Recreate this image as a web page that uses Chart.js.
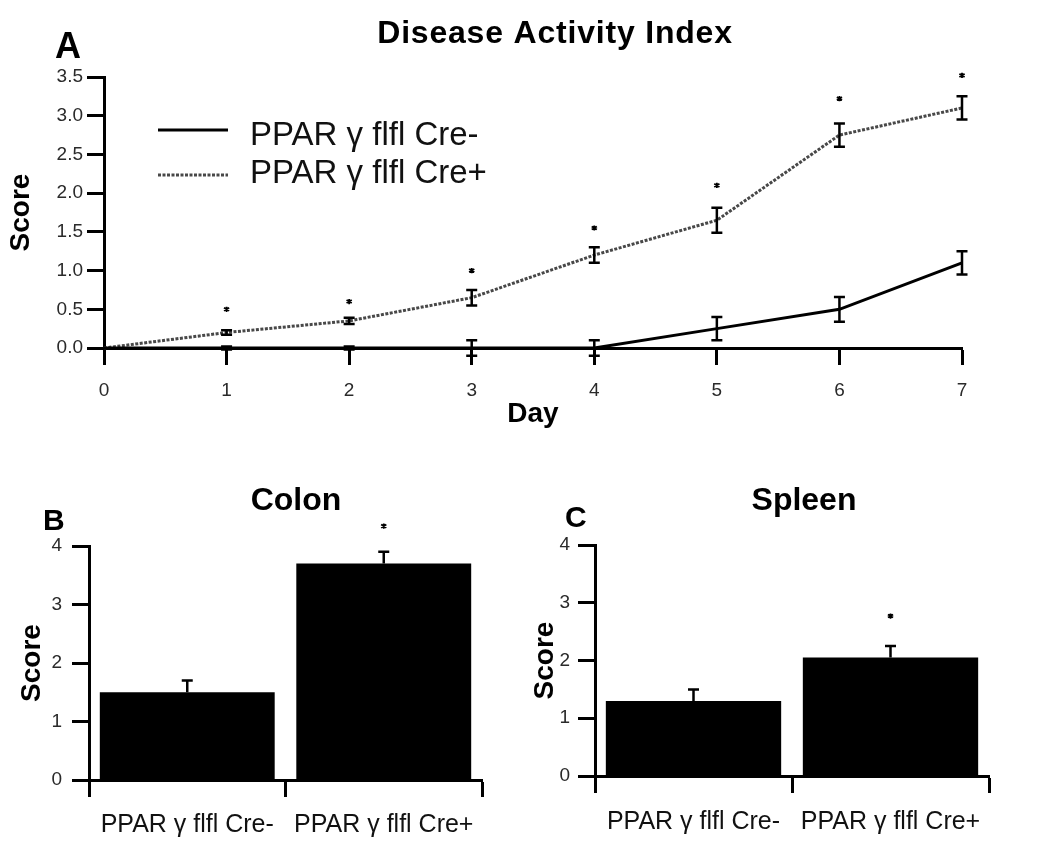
<!DOCTYPE html>
<html>
<head>
<meta charset="utf-8">
<title>Disease Activity Index</title>
<script src="https://cdn.jsdelivr.net/npm/chart.js@4.4.0/dist/chart.umd.min.js"></script>
<style>
  body { margin: 0; background: #fff; }
  #wrap { position: relative; width: 1050px; height: 852px; }
  canvas { position: absolute; }
</style>
</head>
<body>
<div id="wrap">
  <canvas id="dai" width="1050" height="440" style="left:0;top:0"></canvas>
  <canvas id="colon" width="520" height="392" style="left:0;top:460px"></canvas>
  <canvas id="spleen" width="530" height="392" style="left:520px;top:460px"></canvas>
</div>
<script>
// values
const days = [0, 1, 2, 3, 4, 5, 6, 7];
const creMinus = [0, 0, 0, 0, 0, 0.25, 0.5, 1.1];
const creMinusErr = [0, 0.02, 0.02, 0.1, 0.1, 0.15, 0.16, 0.15];
const crePlus = [0, 0.2, 0.35, 0.65, 1.2, 1.65, 2.75, 3.1];
const crePlusErr = [0, 0.03, 0.04, 0.1, 0.1, 0.16, 0.15, 0.15];
const sigDays = [1, 2, 3, 4, 5, 6, 7];
const sigDai = [0.5, 0.6, 1.0, 1.55, 2.1, 3.22, 3.52]; // asterisk heights

const groups = ['PPAR γ flfl Cre-', 'PPAR γ flfl Cre+'];
const colon = [1.5, 3.7];
const colonErr = [0.2, 0.2];
const colonSig = [null, 4.34];
const spleen = [1.3, 2.05];
const spleenErr = [0.2, 0.2];
const spleenSig = [null, 2.77];

const FONT = '"Liberation Sans", Arial, Helvetica, sans-serif';
Chart.defaults.font.family = FONT;
Chart.defaults.color = '#222';

// error bars: both directions for the lines, up only for the bars
const errorBars = {
  id: 'errorBars',
  afterDatasetsDraw(chart, args, opts) {
    const ctx = chart.ctx;
    const yScale = chart.scales.y;
    chart.data.datasets.forEach((ds, di) => {
      if (!ds.errors) return;
      const meta = chart.getDatasetMeta(di);
      ctx.save();
      ctx.strokeStyle = '#000';
      ctx.lineWidth = opts.width;
      meta.data.forEach((el, i) => {
        const e = ds.errors[i];
        if (!e) return;
        const v = typeof ds.data[i] === 'object' ? ds.data[i].y : ds.data[i];
        const top = yScale.getPixelForValue(v + e);
        const bot = opts.both ? yScale.getPixelForValue(v - e) : el.y;
        const h = opts.cap / 2;
        ctx.beginPath();
        ctx.moveTo(el.x, top); ctx.lineTo(el.x, bot);
        ctx.moveTo(el.x - h, top); ctx.lineTo(el.x + h, top);
        if (opts.both) { ctx.moveTo(el.x - h, bot); ctx.lineTo(el.x + h, bot); }
        ctx.stroke();
      });
      ctx.restore();
    });
  }
};

// significance asterisks, placed by the dataset's own points
const stars = {
  id: 'stars',
  afterDatasetsDraw(chart) {
    const ctx = chart.ctx;
    chart.data.datasets.forEach((ds, di) => {
      if (!ds.stars) return;
      ctx.save();
      ctx.strokeStyle = '#000';
      ctx.lineWidth = 1.8;
      chart.getDatasetMeta(di).data.forEach(pt => {
        if (pt.skip || isNaN(pt.y)) return;
        const r = 2.6;
        ctx.beginPath();
        ctx.moveTo(pt.x, pt.y - r); ctx.lineTo(pt.x, pt.y + r);
        ctx.moveTo(pt.x - r, pt.y - r * 0.6); ctx.lineTo(pt.x + r, pt.y + r * 0.6);
        ctx.moveTo(pt.x - r, pt.y + r * 0.6); ctx.lineTo(pt.x + r, pt.y - r * 0.6);
        ctx.stroke();
      });
      ctx.restore();
    });
  }
};

// panel letter and bold title
const panelText = {
  id: 'panelText',
  afterDraw(chart, args, o) {
    const ctx = chart.ctx;
    ctx.save();
    ctx.fillStyle = '#000';
    ctx.textBaseline = 'alphabetic';
    ctx.textAlign = 'left';
    ctx.font = 'bold ' + o.letterSize + 'px ' + FONT;
    ctx.fillText(o.letter, o.letterX, o.letterY);
    ctx.textAlign = 'center';
    ctx.font = 'bold ' + o.titleSize + 'px ' + FONT;
    ctx.letterSpacing = o.spacing || '0px';
    ctx.fillText(o.title, o.titleX, o.titleY);
    ctx.restore();
  }
};

// legend sitting inside the plot, like the original
const lineLegend = {
  id: 'lineLegend',
  afterDraw(chart, args, o) {
    const ctx = chart.ctx;
    ctx.save();
    for (let i = 0; i < 2; i++) {
      const ds = chart.data.datasets[i];
      ctx.strokeStyle = ds.borderColor;
      ctx.lineWidth = ds.borderWidth;
      ctx.setLineDash(ds.borderDash || []);
      ctx.beginPath();
      ctx.moveTo(o.x0, o.lineY[i]);
      ctx.lineTo(o.x1, o.lineY[i]);
      ctx.stroke();
      ctx.setLineDash([]);
      ctx.fillStyle = '#111';
      ctx.font = o.size + 'px ' + FONT;
      ctx.textBaseline = 'alphabetic';
      ctx.fillText(ds.label, o.textX, o.textY[i]);
    }
    ctx.restore();
  }
};

function axisGrid() {
  return { drawOnChartArea: false, tickLength: 17, tickWidth: 3, tickColor: '#000' };
}

new Chart(document.getElementById('dai'), {
  type: 'line',
  data: {
    datasets: [
      { label: groups[0], data: days.map((d, i) => ({ x: d, y: creMinus[i] })), errors: creMinusErr,
        borderColor: '#000', borderWidth: 3, pointRadius: 0, tension: 0, clip: false },
      { label: groups[1], data: days.map((d, i) => ({ x: d, y: crePlus[i] })), errors: crePlusErr,
        borderColor: '#484848', borderWidth: 3, borderDash: [3, 1.5], pointRadius: 0, tension: 0, clip: false },
      { label: 'sig', data: sigDays.map((d, i) => ({ x: d, y: sigDai[i] })), stars: true,
        showLine: false, pointRadius: 0 }
    ]
  },
  options: {
    responsive: false,
    animation: false,
    events: [],
    layout: { padding: { left: 0, top: 77, right: 88, bottom: 0 } },
    plugins: {
      legend: { display: false },
      tooltip: { enabled: false },
      errorBars: { both: true, cap: 11, width: 2.5 },
      lineLegend: { x0: 158, x1: 228, textX: 250, lineY: [130, 175], textY: [145, 183], size: 33 },
      panelText: { letter: 'A', letterX: 55, letterY: 58, letterSize: 36,
        title: 'Disease Activity Index', titleX: 555, titleY: 43, titleSize: 32, spacing: '0.8px' }
    },
    scales: {
      x: {
        type: 'linear', min: 0, max: 7,
        ticks: { stepSize: 1, padding: 14, color: '#2a2a2a', font: { size: 19 } },
        border: { color: '#000', width: 3 },
        grid: axisGrid(),
        title: { display: true, text: 'Day', color: '#000', font: { size: 28, weight: 'bold' },
          padding: { top: 0, bottom: 9 } },
        afterFit(s) { s.height = 92; }
      },
      y: {
        min: 0, max: 3.5,
        ticks: { stepSize: 0.5, padding: 4, color: '#2a2a2a', font: { size: 19 }, callback: v => v.toFixed(1) },
        border: { color: '#000', width: 3 },
        grid: axisGrid(),
        title: { display: true, text: 'Score', color: '#000', font: { size: 28, weight: 'bold' },
          padding: { top: 4, bottom: 0 } },
        afterFit(s) { s.width = 104; }
      }
    }
  },
  plugins: [errorBars, stars, lineLegend, panelText]
});

function organChart(id, vals, errs, sig, o) {
  return new Chart(document.getElementById(id), {
    type: 'bar',
    data: {
      labels: groups,
      datasets: [
        { data: vals, errors: errs, backgroundColor: '#000', barPercentage: 0.89, categoryPercentage: 1 },
        { type: 'line', data: sig, stars: true, showLine: false, pointRadius: 0 }
      ]
    },
    options: {
      responsive: false,
      animation: false,
      events: [],
      layout: { padding: { left: 0, top: o.top, right: o.right, bottom: 0 } },
      plugins: {
        legend: { display: false },
        tooltip: { enabled: false },
        errorBars: { both: false, cap: 11, width: 2.5 },
        panelText: { letter: o.letter, letterX: o.letterX, letterY: o.letterY, letterSize: 30,
          title: o.title, titleX: o.titleX, titleY: 50, titleSize: 32 }
      },
      scales: {
        x: {
          ticks: { padding: o.xPad, color: '#111', font: { size: 25 }, maxRotation: 0, minRotation: 0, autoSkip: false },
          border: { color: '#000', width: 3 },
          grid: Object.assign(axisGrid(), { offset: true }),
          afterFit(s) { s.height = o.xHeight; }
        },
        y: {
          min: 0, max: 4,
          ticks: { stepSize: 1, padding: o.yPad, color: '#2a2a2a', font: { size: 19 } },
          border: { color: '#000', width: 3 },
          grid: axisGrid(),
          title: { display: true, text: 'Score', color: '#000', font: { size: 28, weight: 'bold' },
            padding: { top: o.titlePad, bottom: 0 } },
          afterFit(s) { s.width = o.yWidth; }
        }
      }
    },
    plugins: [errorBars, stars, panelText]
  });
}

organChart('colon', colon, colonErr, colonSig, {
  top: 86, right: 38, yWidth: 89, xHeight: 72, xPad: 13, yPad: 10, titlePad: 15,
  letter: 'B', letterX: 43, letterY: 70, title: 'Colon', titleX: 296
});
organChart('spleen', spleen, spleenErr, spleenSig, {
  top: 85, right: 61, yWidth: 75, xHeight: 76, xPad: 14, yPad: 8, titlePad: 8,
  letter: 'C', letterX: 45, letterY: 67, title: 'Spleen', titleX: 284
});
</script>
</body>
</html>
